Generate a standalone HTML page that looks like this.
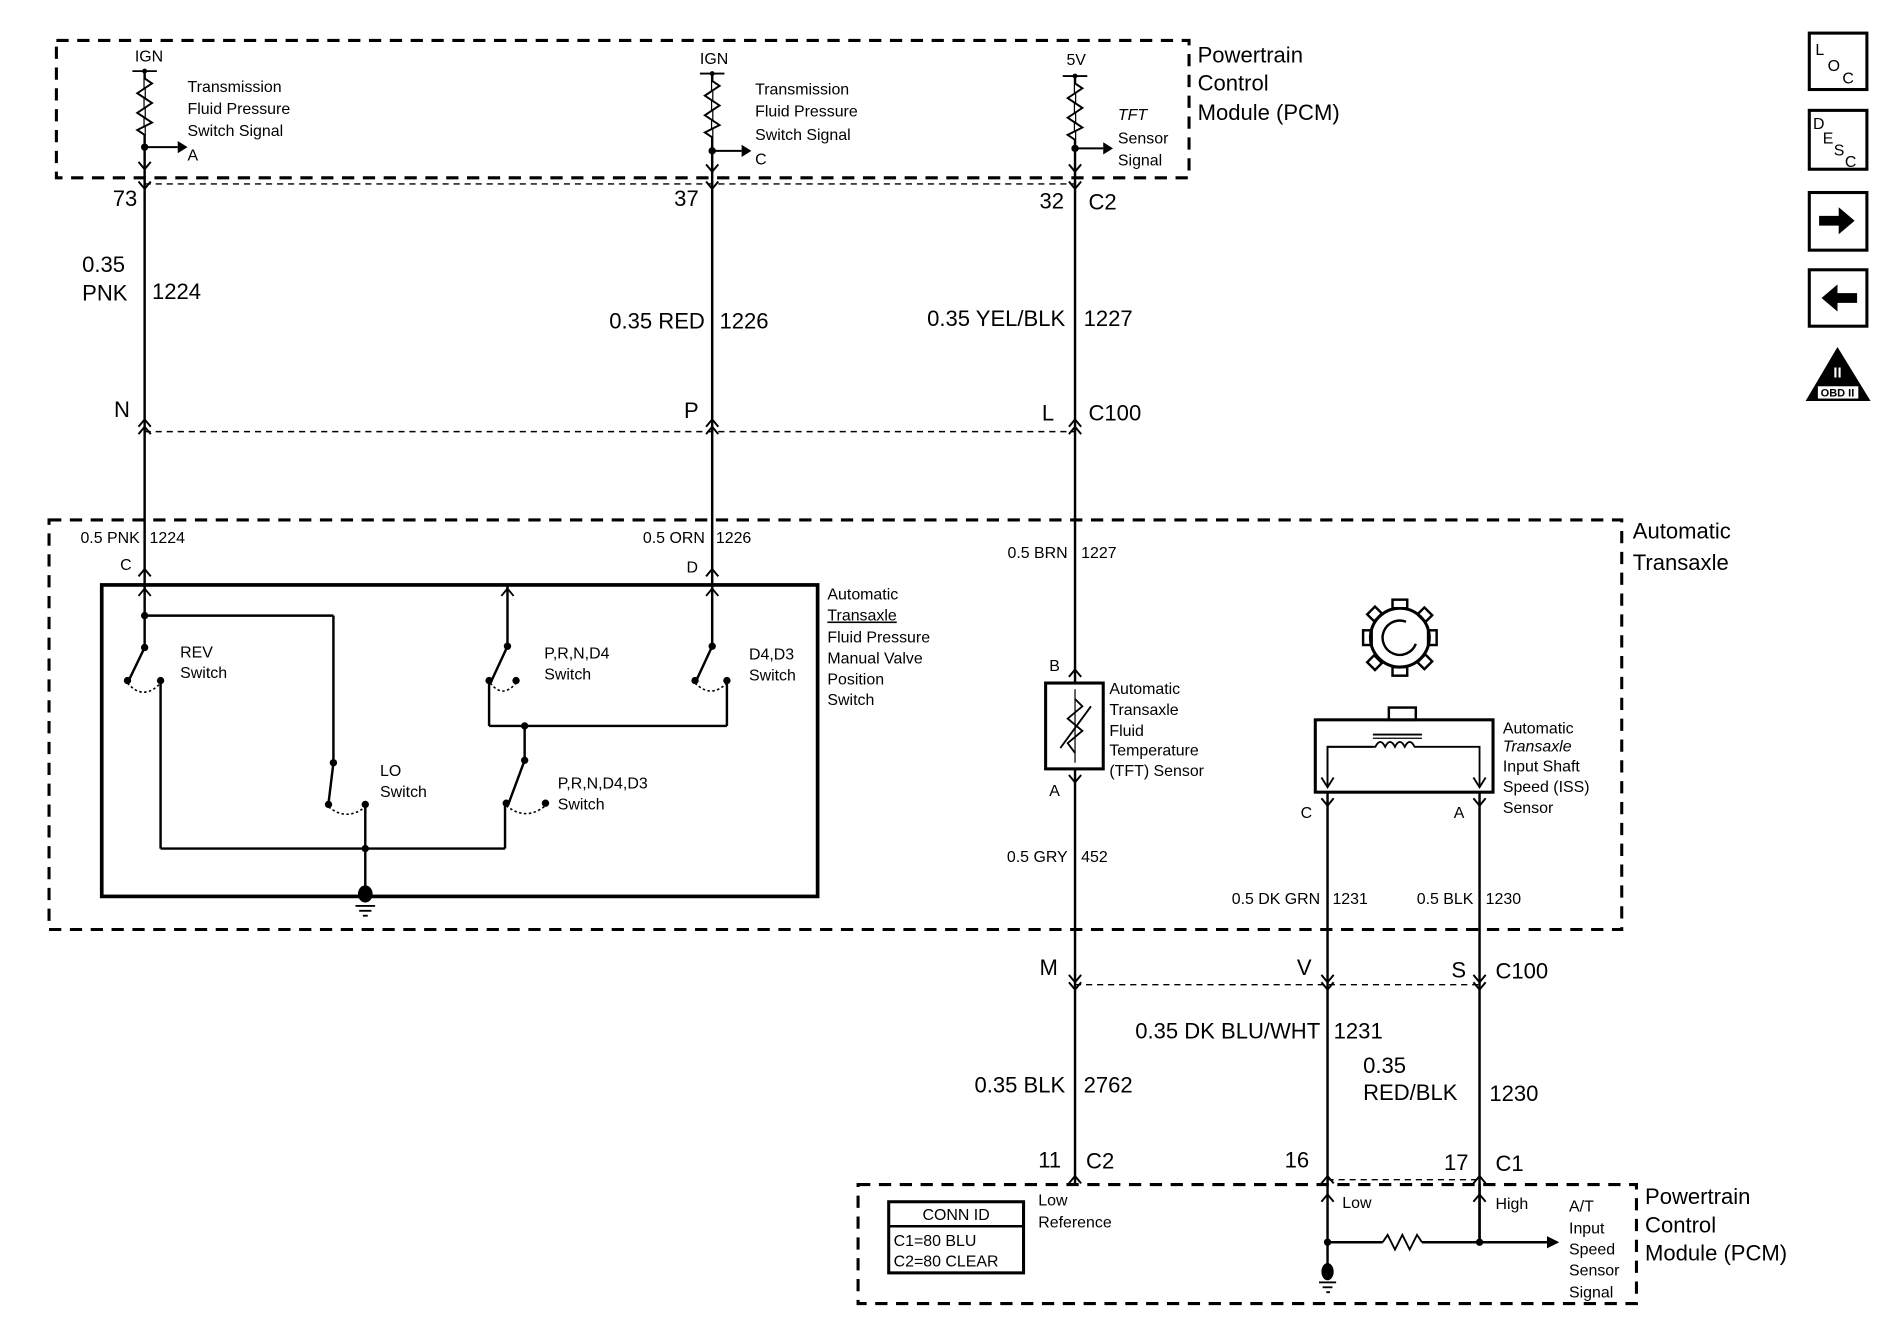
<!DOCTYPE html>
<html><head><meta charset="utf-8"><style>
html,body{margin:0;padding:0;background:#fff;}
svg{display:block;}
text{font-family:"Liberation Sans",sans-serif;fill:#000;}
.s{font-size:13px;}
.m{font-size:18px;}
.l{font-size:19px;}
</style></head><body>
<svg width="1900" height="1344" viewBox="0 0 1550 1096" preserveAspectRatio="none" xmlns="http://www.w3.org/2000/svg">
<g fill="none" stroke="#000">
<!-- dashed boxes -->
<rect x="46" y="33" width="924" height="112" stroke-width="2.5" stroke-dasharray="10,7"/>
<rect x="40" y="424" width="1283" height="334" stroke-width="2.5" stroke-dasharray="10,7"/>
<rect x="700" y="966" width="635" height="97" stroke-width="2.5" stroke-dasharray="10,7"/>
<!-- connector dashed lines -->
<line x1="118" y1="150" x2="877" y2="150" stroke-width="1.2" stroke-dasharray="5,4"/>
<line x1="118" y1="352" x2="877" y2="352" stroke-width="1.2" stroke-dasharray="5,4"/>
<line x1="877" y1="803" x2="1207" y2="803" stroke-width="1.2" stroke-dasharray="5,4"/>
<line x1="1083" y1="962" x2="1207" y2="962" stroke-width="1.2" stroke-dasharray="5,4"/>
<!-- main wires -->
<g stroke-width="2">
<line x1="118" y1="58" x2="118" y2="477"/>
<line x1="581" y1="60" x2="581" y2="477"/>
<line x1="877" y1="62" x2="877" y2="557"/>
<line x1="877" y1="627" x2="877" y2="965"/>
<line x1="1083" y1="646" x2="1083" y2="1040"/>
<line x1="1207" y1="646" x2="1207" y2="1013"/>
<line x1="1207" y1="1013" x2="1207" y2="965"/>
</g>
<!-- top tick marks & resistors -->
<g stroke-width="1.5">
<line x1="108" y1="58" x2="128" y2="58"/><line x1="571" y1="60" x2="591" y2="60"/><line x1="867" y1="62" x2="887" y2="62"/>
</g>
<g fill="#fff" stroke-width="1.6">
<polyline points="118,64 124,68 112,76 124,84 112,92 124,100 112,106 118,110"/>
<polyline points="581,66 587,70 575,78 587,86 575,94 587,102 575,108 581,112"/>
<polyline points="877,68 883,72 871,80 883,88 871,96 883,104 871,110 877,114"/>
</g>
<g stroke-width="1.6">
<line x1="118" y1="120" x2="145" y2="120"/><line x1="581" y1="123" x2="605" y2="123"/><line x1="877" y1="121" x2="900" y2="121"/>
<polyline points="113,132 118,138 123,132"/><polyline points="576,134 581,140 586,134"/><polyline points="872,134 877,140 882,134"/>
<!-- connector symbols -->
<polyline points="113,148 118,154 123,148"/><polyline points="576,148 581,154 586,148"/><polyline points="872,148 877,154 882,148"/>
<polyline points="113,348 118,342 123,348"/><polyline points="113,354 118,348 123,354"/>
<polyline points="576,348 581,342 586,348"/><polyline points="576,354 581,348 586,354"/>
<polyline points="872,348 877,342 882,348"/><polyline points="872,354 877,348 882,354"/>
<polyline points="113,470 118,464 123,470"/><polyline points="576,470 581,464 586,470"/>
<polyline points="872,552 877,546 882,552"/><polyline points="872,632 877,638 882,632"/>
<polyline points="1078,651 1083,657 1088,651"/><polyline points="1202,651 1207,657 1212,651"/>
<polyline points="872,795 877,801 882,795"/><polyline points="872,801 877,807 882,801"/>
<polyline points="1078,795 1083,801 1088,795"/><polyline points="1078,801 1083,807 1088,801"/>
<polyline points="1202,795 1207,801 1212,795"/><polyline points="1202,801 1207,807 1212,801"/>
<polyline points="872,965 877,959 882,965"/><polyline points="1078,965 1083,959 1088,965"/><polyline points="1202,965 1207,959 1212,965"/>
<polyline points="1078,980 1083,974 1088,980"/><polyline points="1202,980 1207,974 1212,980"/>
</g>
<!-- switch box -->
<rect x="83" y="477" width="584" height="254" stroke-width="3"/>
<g stroke-width="2">
<line x1="118" y1="477" x2="118" y2="528"/>
<line x1="118" y1="502" x2="272" y2="502"/><line x1="272" y1="502" x2="272" y2="622"/>
<line x1="118" y1="528" x2="105" y2="555"/>
<line x1="131" y1="555" x2="131" y2="692"/><line x1="131" y1="692" x2="412" y2="692"/>
<line x1="272" y1="622" x2="268" y2="655"/>
<line x1="298" y1="656" x2="298" y2="731"/>
<line x1="414" y1="477" x2="414" y2="527"/><line x1="414" y1="527" x2="401" y2="555"/>
<line x1="581" y1="477" x2="581" y2="527"/><line x1="581" y1="527" x2="568" y2="555"/>
<line x1="399" y1="555" x2="399" y2="592"/><line x1="399" y1="592" x2="593" y2="592"/><line x1="593" y1="555" x2="593" y2="592"/>
<line x1="428" y1="592" x2="428" y2="620"/><line x1="428" y1="620" x2="415" y2="655"/>
<line x1="412" y1="655" x2="412" y2="692"/>
</g>
<g stroke-width="1.5">
<polyline points="113,486 118,480 123,486"/><polyline points="409,486 414,480 419,486"/><polyline points="576,486 581,480 586,486"/>
</g>
<g stroke-width="1.3" stroke-dasharray="2,2">
<path d="M104,557 Q117,572 131,557"/><path d="M268,658 Q283,670 298,658"/>
<path d="M400,557 Q410,570 421,557"/><path d="M567,557 Q580,570 593,557"/><path d="M413,657 Q429,670 445,657"/>
</g>
<!-- TFT sensor -->
<rect x="853" y="557" width="47" height="70" stroke-width="2.5"/>
<polyline points="877,570 883,576 871,586 883,596 871,606 877,614" stroke-width="1.5"/>
<line x1="865" y1="610" x2="890" y2="576" stroke-width="1.5"/>
<line x1="877" y1="562" x2="877" y2="622" stroke-width="1"/>
<!-- ISS -->
<circle cx="1142" cy="520" r="24" stroke-width="2.5"/>
<path d="M1155,525 A14,14 0 1 1 1147,507" stroke-width="2"/>
<g stroke-width="2">
<rect x="1136" y="489" width="12" height="7" fill="#fff"/><rect x="1136" y="544" width="12" height="7"/>
<rect x="1112" y="514" width="7" height="12"/><rect x="1165" y="514" width="7" height="12"/>
<rect x="1117" y="497" width="9" height="8" transform="rotate(-45 1121 501)"/>
<rect x="1158" y="497" width="9" height="8" transform="rotate(45 1162 501)"/>
<rect x="1117" y="536" width="9" height="8" transform="rotate(45 1121 540)"/>
<rect x="1158" y="536" width="9" height="8" transform="rotate(-45 1162 540)"/>
</g>
<rect x="1133" y="577" width="22" height="10" stroke-width="2"/>
<rect x="1073" y="587" width="145" height="59" stroke-width="2.5"/>
<polyline points="1083,642 1083,609 1120,609 M1190,609" stroke-width="1.5"/>
<path d="M1083,642 V609 H1122 q4,-8 8,0 q4,-8 8,0 q4,-8 8,0 q4,-8 8,0 H1207 V642" stroke-width="1.5"/>
<line x1="1120" y1="599" x2="1160" y2="599" stroke-width="1.5"/><line x1="1120" y1="602" x2="1160" y2="602" stroke-width="1"/>
<polyline points="1078,634 1083,642 1088,634" stroke-width="1.5"/><polyline points="1202,634 1207,642 1212,634" stroke-width="1.5"/>
<!-- bottom PCM circuit -->
<line x1="1083" y1="1013" x2="1128" y2="1013" stroke-width="2"/>
<polyline points="1128,1013 1132,1007 1138,1019 1144,1007 1150,1019 1156,1007 1160,1013" stroke-width="1.5"/>
<line x1="1160" y1="1013" x2="1262" y2="1013" stroke-width="2"/>
<!-- conn id -->
<rect x="725" y="980" width="110" height="58" stroke-width="2.5"/>
<line x1="725" y1="1000" x2="835" y2="1000" stroke-width="2"/>
<!-- icons -->
<rect x="1476" y="27" width="47" height="46" stroke-width="2.5"/>
<rect x="1476" y="90" width="47" height="48" stroke-width="2.5"/>
<rect x="1476" y="157" width="47" height="47" stroke-width="2.5"/>
<rect x="1476" y="220" width="47" height="46" stroke-width="2.5"/>
</g>
<g fill="#000">
<circle cx="118" cy="120" r="3"/><circle cx="581" cy="123" r="3"/><circle cx="877" cy="121" r="3"/>
<circle cx="118" cy="58" r="2"/><circle cx="581" cy="60" r="2"/><circle cx="877" cy="62" r="2"/>
<polygon points="145,115 153,120 145,125"/><polygon points="605,118 613,123 605,128"/><polygon points="900,116 908,121 900,126"/>
<circle cx="118" cy="502" r="3"/><circle cx="118" cy="528" r="3"/><circle cx="104" cy="555" r="3"/><circle cx="131" cy="555" r="3"/>
<circle cx="272" cy="622" r="3"/><circle cx="268" cy="656" r="3"/><circle cx="298" cy="656" r="3"/><circle cx="298" cy="692" r="3"/>
<circle cx="414" cy="527" r="3"/><circle cx="399" cy="555" r="3"/><circle cx="421" cy="555" r="3"/>
<circle cx="581" cy="527" r="3"/><circle cx="567" cy="555" r="3"/><circle cx="593" cy="555" r="3"/>
<circle cx="428" cy="592" r="3"/><circle cx="428" cy="620" r="3"/><circle cx="413" cy="655" r="3"/><circle cx="445" cy="655" r="3"/>
<ellipse cx="298" cy="729" rx="6" ry="7"/>
<rect x="290" y="738" width="16" height="1.5"/><rect x="293" y="742" width="10" height="1.5"/><rect x="296" y="746" width="4" height="1.5"/>
<circle cx="1083" cy="1013" r="3"/><circle cx="1207" cy="1013" r="3"/>
<polygon points="1262,1008 1272,1013 1262,1018"/>
<ellipse cx="1083" cy="1037" rx="5" ry="7"/>
<rect x="1076" y="1045" width="14" height="1.5"/><rect x="1079" y="1049" width="8" height="1.5"/><rect x="1082" y="1053" width="3" height="1.5"/>
<polygon points="1484,176 1500,176 1500,169 1513,180 1500,191 1500,184 1484,184"/>
<polygon points="1515,239 1499,239 1499,232 1486,243 1499,254 1499,247 1515,247"/>
<polygon points="1499,283 1473,327 1526,327"/>
</g>
<rect x="1483" y="315" width="33" height="10" fill="#fff"/>
<text x="1499" y="323.5" text-anchor="middle" style="font-size:9px;font-weight:bold">OBD II</text>
<text x="1499" y="308" text-anchor="middle" style="font-size:12px;font-weight:bold;fill:#fff">II</text>
<text x="1481" y="45" class="s">L</text><text x="1491" y="58" class="s">O</text><text x="1503" y="68" class="s">C</text>
<text x="1479" y="105" class="s">D</text><text x="1487" y="117" class="s">E</text><text x="1496" y="127" class="s">S</text><text x="1505" y="136" class="s">C</text>

<g class="s">
<text x="110" y="50">IGN</text><text x="571" y="52">IGN</text><text x="870" y="53">5V</text>
<text x="153" y="75">Transmission</text><text x="153" y="93">Fluid Pressure</text><text x="153" y="111">Switch Signal</text><text x="153" y="131">A</text>
<text x="616" y="77">Transmission</text><text x="616" y="95">Fluid Pressure</text><text x="616" y="114">Switch Signal</text><text x="616" y="134">C</text>
<text x="912" y="98" font-style="italic">TFT</text><text x="912" y="117">Sensor</text><text x="912" y="135">Signal</text>
<text x="114" y="443" text-anchor="end">0.5 PNK</text><text x="122" y="443">1224</text><text x="98" y="465">C</text>
<text x="575" y="443" text-anchor="end">0.5 ORN</text><text x="584" y="443">1226</text><text x="560" y="467">D</text>
<text x="871" y="455" text-anchor="end">0.5 BRN</text><text x="882" y="455">1227</text>
<text x="675" y="489">Automatic</text><text x="675" y="506" text-decoration="underline">Transaxle</text><text x="675" y="524">Fluid Pressure</text><text x="675" y="541">Manual Valve</text><text x="675" y="558">Position</text><text x="675" y="575">Switch</text>
<text x="147" y="536">REV</text><text x="147" y="553">Switch</text>
<text x="444" y="537">P,R,N,D4</text><text x="444" y="554">Switch</text>
<text x="611" y="538">D4,D3</text><text x="611" y="555">Switch</text>
<text x="310" y="633">LO</text><text x="310" y="650">Switch</text>
<text x="455" y="643">P,R,N,D4,D3</text><text x="455" y="660">Switch</text>
<text x="856" y="547">B</text><text x="856" y="649">A</text>
<text x="905" y="566">Automatic</text><text x="905" y="583">Transaxle</text><text x="905" y="600">Fluid</text><text x="905" y="616">Temperature</text><text x="905" y="633">(TFT) Sensor</text>
<text x="1226" y="598">Automatic</text><text x="1226" y="613" font-style="italic">Transaxle</text><text x="1226" y="629">Input Shaft</text><text x="1226" y="646">Speed (ISS)</text><text x="1226" y="663">Sensor</text>
<text x="1061" y="667">C</text><text x="1186" y="667">A</text>
<text x="871" y="703" text-anchor="end">0.5 GRY</text><text x="882" y="703">452</text>
<text x="1077" y="737" text-anchor="end">0.5 DK GRN</text><text x="1087" y="737">1231</text>
<text x="1202" y="737" text-anchor="end">0.5 BLK</text><text x="1212" y="737">1230</text>
<text x="847" y="983">Low</text><text x="847" y="1001">Reference</text>
<text x="1095" y="985">Low</text><text x="1220" y="986">High</text>
<text x="1280" y="988">A/T</text><text x="1280" y="1006">Input</text><text x="1280" y="1023">Speed</text><text x="1280" y="1040">Sensor</text><text x="1280" y="1058">Signal</text>
<text x="780" y="995" text-anchor="middle">CONN ID</text>
<text x="729" y="1016">C1=80 BLU</text><text x="729" y="1033">C2=80 CLEAR</text>
</g>
<g class="m">
<text x="977" y="51">Powertrain</text><text x="977" y="74">Control</text><text x="977" y="98">Module (PCM)</text>
<text x="1332" y="439">Automatic</text><text x="1332" y="465">Transaxle</text>
<text x="1342" y="982">Powertrain</text><text x="1342" y="1005">Control</text><text x="1342" y="1028">Module (PCM)</text>
<text x="92" y="168">73</text><text x="550" y="168">37</text><text x="848" y="170">32</text><text x="888" y="171">C2</text>
<text x="67" y="222">0.35</text><text x="67" y="245">PNK</text><text x="124" y="244">1224</text>
<text x="575" y="268" text-anchor="end">0.35 RED</text><text x="587" y="268">1226</text>
<text x="869" y="266" text-anchor="end">0.35 YEL/BLK</text><text x="884" y="266">1227</text>
<text x="93" y="340">N</text><text x="558" y="341">P</text><text x="850" y="343">L</text><text x="888" y="343">C100</text>
<text x="848" y="795">M</text><text x="1058" y="795">V</text><text x="1184" y="797">S</text><text x="1220" y="798">C100</text>
<text x="1077" y="847" text-anchor="end">0.35 DK BLU/WHT</text><text x="1088" y="847">1231</text>
<text x="869" y="891" text-anchor="end">0.35 BLK</text><text x="884" y="891">2762</text>
<text x="1112" y="875">0.35</text><text x="1112" y="897">RED/BLK</text><text x="1215" y="898">1230</text>
<text x="847" y="952">11</text><text x="886" y="953">C2</text><text x="1048" y="952">16</text><text x="1178" y="954">17</text><text x="1220" y="955">C1</text>
</g>
</svg>
</body></html>
